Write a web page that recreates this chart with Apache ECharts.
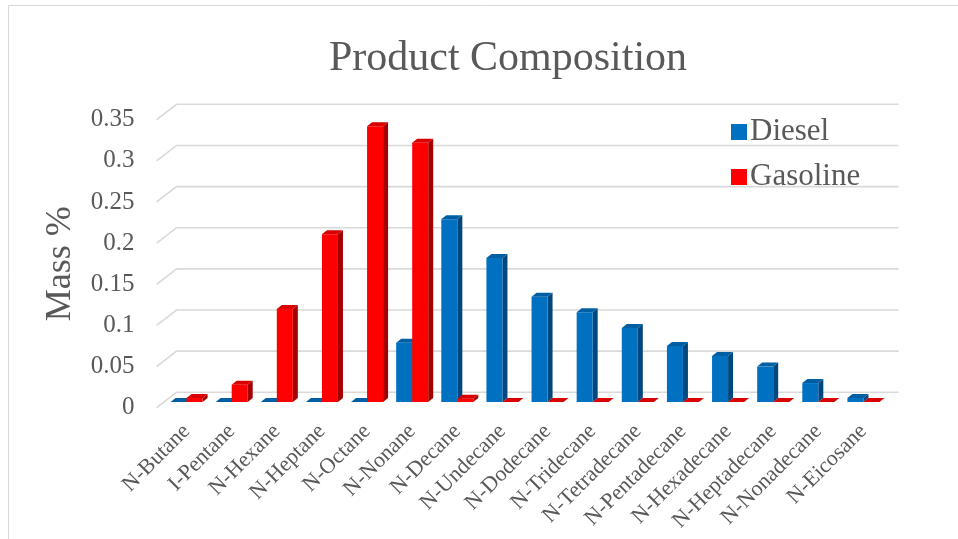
<!DOCTYPE html>
<html>
<head>
<meta charset="utf-8">
<script src="https://cdn.jsdelivr.net/npm/echarts@6/dist/echarts.min.js"></script>
<style>
  html, body { margin: 0; padding: 0; background: #ffffff; }
  #chart { width: 958px; height: 539px; }
</style>
</head>
<body>
<div id="chart"></div>
<script>
// ---- data ----
const categories = [
  'N-Butane', 'I-Pentane', 'N-Hexane', 'N-Heptane', 'N-Octane', 'N-Nonane',
  'N-Decane', 'N-Undecane', 'N-Dodecane', 'N-Tridecane', 'N-Tetradecane',
  'N-Pentadecane', 'N-Hexadecane', 'N-Heptadecane', 'N-Nonadecane', 'N-Eicosane'
];
const diesel = [0, 0, 0, 0, 0, 0.072, 0.222, 0.175, 0.128, 0.109, 0.090, 0.068, 0.056, 0.043, 0.023, 0.005];
const gasoline = [0.005, 0.021, 0.113, 0.204, 0.335, 0.315, 0.004, 0, 0, 0, 0, 0, 0, 0, 0, 0];
const yTicks = [0, 0.05, 0.1, 0.15, 0.2, 0.25, 0.3, 0.35];

// ---- styling ----
const FONT = "'Liberation Serif', 'Times New Roman', serif";
const TEXT = '#595959';
const GRID_LINE = '#D9D9D9';

// oblique projection used for the pseudo-3D look
const DEPTH = { dx: 5, dy: -4 };          // depth of one column
const FLOOR_FRONT = { dx: -7.4, dy: 5.7 }; // column front plane -> floor front edge
const WALL = { dx: 12.6, dy: -9.7 };      // column front plane -> back wall

const PLOT = { left: 164, top: 114, width: 722, height: 288 };

function columnRenderer(slot, colors) {
  return function (params, api) {
    const idx = api.value(0);
    const val = api.value(1);
    const band = api.size([1, 0])[0];
    const w = band * 0.355;
    const base = api.coord([idx, 0]);
    const top = api.coord([idx, val]);
    const x0 = base[0] + slot * w;
    const x1 = x0 + w;
    const yb = base[1];
    const yt = top[1];
    const dx = DEPTH.dx, dy = DEPTH.dy;
    return {
      type: 'group',
      children: [
        { type: 'polygon', shape: { points: [[x1, yb], [x1 + dx, yb + dy], [x1 + dx, yt + dy], [x1, yt]] },
          style: { fill: colors.side } },
        { type: 'rect', shape: { x: x0, y: yt, width: w, height: Math.max(yb - yt, 0) },
          style: { fill: colors.front } },
        { type: 'polygon', shape: { points: [[x0, yt], [x0 + dx, yt + dy], [x1 + dx, yt + dy], [x1, yt]] },
          style: { fill: colors.top } }
      ]
    };
  };
}

function gridLineRenderer(params, api) {
  const v = api.value(1);
  const y = api.coord([0, v])[1];
  const cs = params.coordSys;
  const left = cs.x;
  const right = cs.x + cs.width;
  return {
    type: 'polyline',
    shape: { points: [
      [left + FLOOR_FRONT.dx, y + FLOOR_FRONT.dy],
      [left + WALL.dx, y + WALL.dy],
      [right + WALL.dx, y + WALL.dy]
    ] },
    style: { stroke: GRID_LINE, lineWidth: 1.6, fill: null }
  };
}

const chart = echarts.init(document.getElementById('chart'), null, { renderer: 'canvas' });

chart.setOption({
  animation: false,
  backgroundColor: '#ffffff',
  title: {
    text: 'Product Composition',
    left: 503,
    top: 33,
    textAlign: 'center',
    textStyle: { fontFamily: FONT, fontSize: 42, fontWeight: 'normal', color: TEXT }
  },
  legend: {
    orient: 'vertical',
    left: 726,
    top: 111,
    icon: 'rect',
    itemWidth: 16,
    itemHeight: 16,
    itemGap: 13,
    textStyle: { fontFamily: FONT, fontSize: 31, color: TEXT, lineHeight: 32, padding: [0, 0, 0, -2] },
    data: ['Diesel', 'Gasoline']
  },
  graphic: [
    { type: 'rect', silent: true, z: -10,
      shape: { x: 8.5, y: 5.5, width: 1200, height: 800 },
      style: { fill: null, stroke: GRID_LINE, lineWidth: 1 } }
  ],
  grid: [
    { left: PLOT.left, top: PLOT.top, width: PLOT.width, height: PLOT.height },
    // label plane: front edge of the floor
    { left: PLOT.left + FLOOR_FRONT.dx, top: PLOT.top + FLOOR_FRONT.dy, width: PLOT.width, height: PLOT.height }
  ],
  xAxis: [
    {
      gridIndex: 0,
      type: 'category',
      data: categories,
      axisLine: { show: false },
      axisTick: { show: false },
      splitLine: { show: false },
      axisLabel: {
        interval: 0,
        rotate: 45,
        margin: 26,
        fontFamily: FONT,
        fontSize: 22,
        color: TEXT
      }
    },
    { gridIndex: 1, type: 'value', show: false }
  ],
  yAxis: [
    {
      gridIndex: 0,
      type: 'value',
      min: 0,
      max: 0.35,
      interval: 0.05,
      show: false,
      splitLine: { show: false }
    },
    {
      gridIndex: 1,
      type: 'value',
      min: 0,
      max: 0.35,
      interval: 0.05,
      axisLine: { show: false },
      axisTick: { show: false },
      splitLine: { show: false },
      axisLabel: { margin: 22, fontFamily: FONT, fontSize: 25, color: TEXT },
      name: 'Mass %',
      nameLocation: 'middle',
      nameRotate: 90,
      nameGap: 78,
      nameTextStyle: { fontFamily: FONT, fontSize: 36, color: TEXT }
    }
  ],
  series: [
    {
      type: 'custom',
      name: 'grid',
      silent: true,
      xAxisIndex: 0,
      yAxisIndex: 0,
      z: 1,
      renderItem: gridLineRenderer,
      data: yTicks.map(v => [0, v]),
      encode: { x: 0, y: 1 }
    },
    {
      type: 'custom',
      name: 'Diesel',
      xAxisIndex: 0,
      yAxisIndex: 0,
      z: 2,
      itemStyle: { color: '#0070C0' },
      renderItem: columnRenderer(-1, { front: '#0070C0', side: '#00477D', top: '#005FA3' }),
      data: diesel.map((v, i) => [i, v]),
      encode: { x: 0, y: 1 }
    },
    {
      type: 'custom',
      name: 'Gasoline',
      xAxisIndex: 0,
      yAxisIndex: 0,
      z: 3,
      itemStyle: { color: '#FF0000' },
      renderItem: columnRenderer(0, { front: '#FF0000', side: '#A50000', top: '#D90000' }),
      data: gasoline.map((v, i) => [i, v]),
      encode: { x: 0, y: 1 }
    }
  ]
});
</script>
</body>
</html>
